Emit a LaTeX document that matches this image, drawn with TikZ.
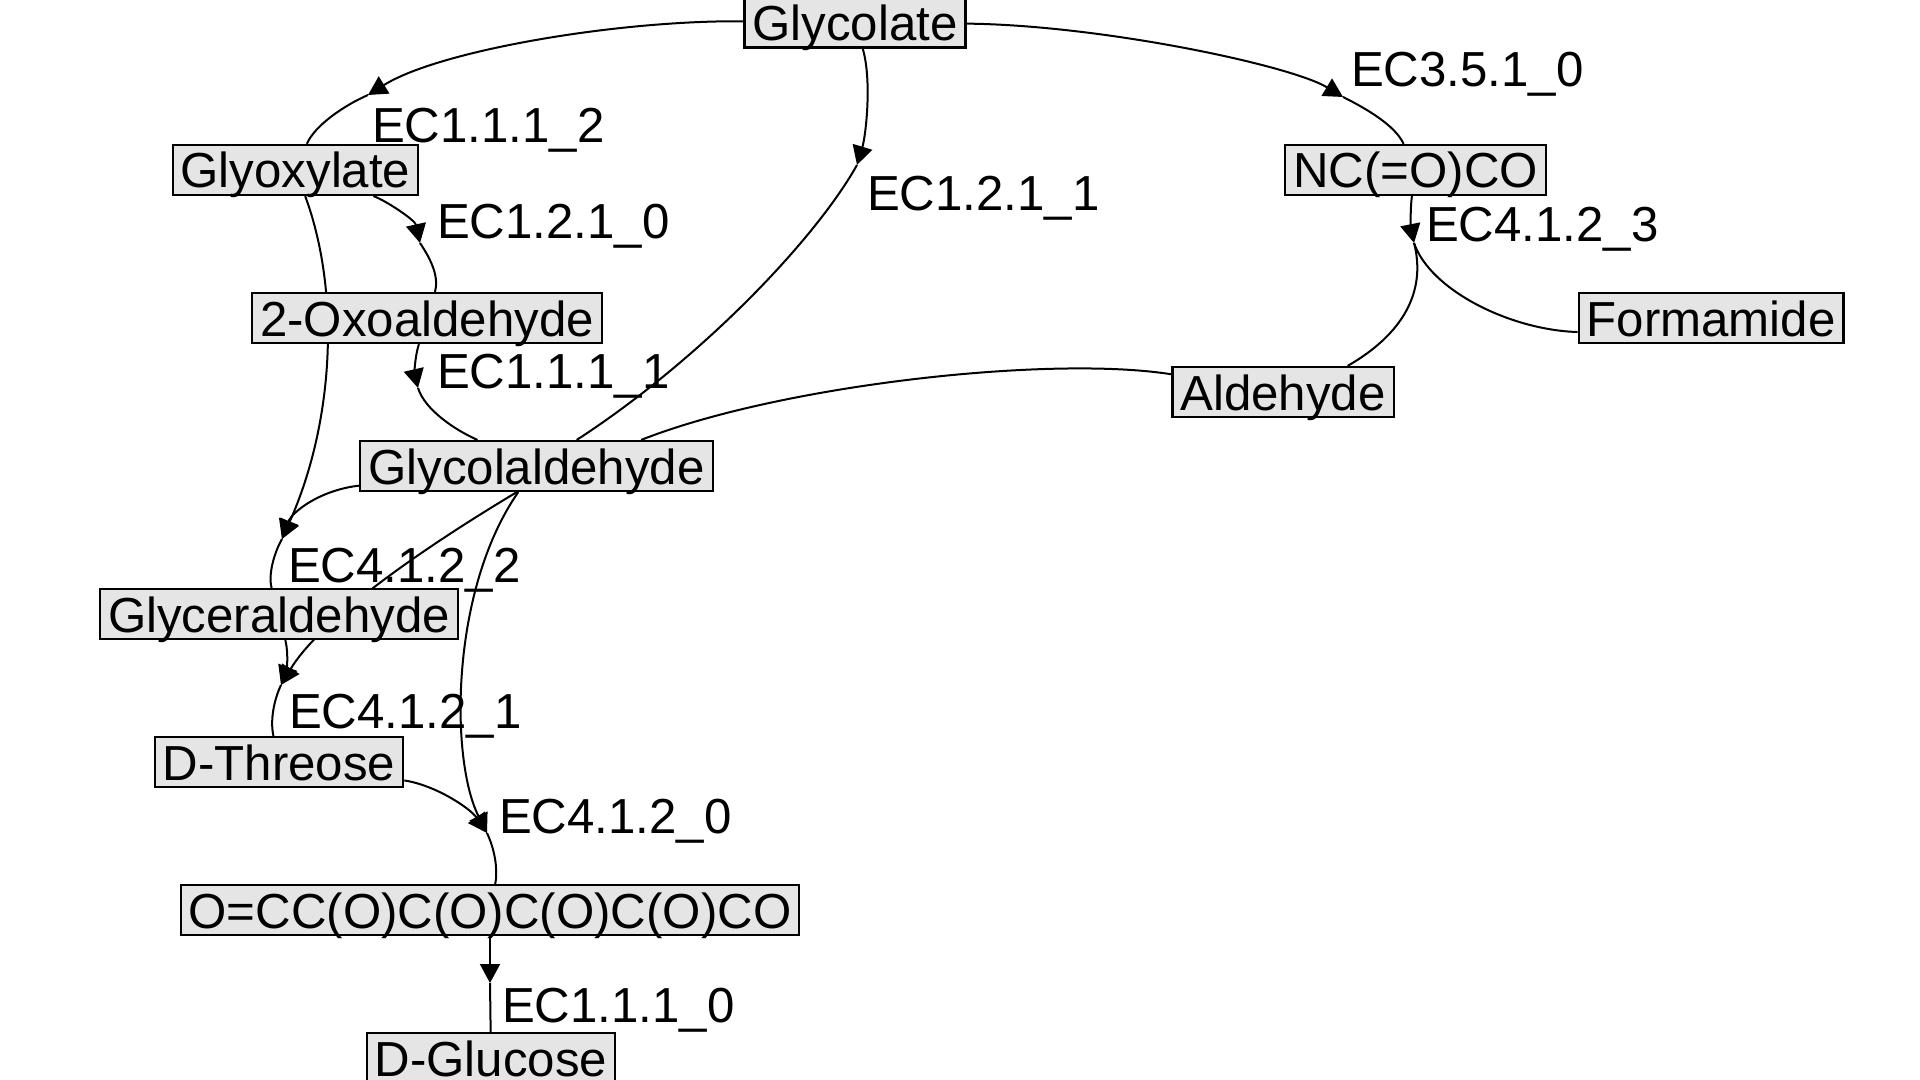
\documentclass[tikz,border=0pt]{standalone}
\usepackage{fontspec}
\setmainfont{Liberation Sans}
\usepackage{xcolor}
\definecolor{boxgray}{gray}{.9}
\usepackage{tikz}
\usetikzlibrary{arrows.meta}
\usetikzlibrary{backgrounds}
\tikzset{
    compound/.style={draw, fill=boxgray, rectangle, line width=1.1pt, inner xsep=4pt, inner ysep=0.5pt,
        text height=21pt, text depth=3pt, font=\fontsize{24.6}{28}\selectfont},
    enzyme/.style={anchor=base west, inner sep=0pt, font=\fontsize{24.6}{28}\selectfont},
    feed/.style={-{Triangle[length=9.5pt, width=10pt]}},
    edge/.style={line width=1pt}
}
\begin{document}
\begin{tikzpicture}[x=0.5pt, y=-0.5pt, every path/.style={edge}]
      \useasboundingbox (0,0) rectangle (1920,1080);

      % compounds
      \node[compound] (glycolate) at (855,22.5) {Glycolate};
      \node[compound] (glyoxylate) at (295.5,170) {Glyoxylate};
      \node[compound] (oxo) at (427,318) {2-Oxoaldehyde};
      \node[compound] (glycolaldehyde) at (536.5,466) {Glycolaldehyde};
      \node[compound] (glyceraldehyde) at (279,614) {Glyceraldehyde};
      \node[compound] (dthreose) at (279,762) {D-Threose};
      \node[compound] (occ) at (490,910) {O=CC(O)C(O)C(O)C(O)CO};
      \node[compound] (dglucose) at (491,1058) {D-Glucose};
      \node[compound] (ncco) at (1415.5,170) {NC(=O)CO};
      \node[compound] (formamide) at (1711,318) {Formamide};
      \node[compound] (aldehyde) at (1283,392) {Aldehyde};

      % reactions
      \coordinate (r1112) at (368,95);
      \coordinate (r1210) at (420,243);
      \coordinate (r1211) at (857,165);
      \coordinate (r1111) at (418,388);
      \coordinate (r3510) at (1343,97);
      \coordinate (r4123) at (1414,243);
      \coordinate (r4122) at (282,539);
      \coordinate (r4121) at (281,685);
      \coordinate (r4120) at (487,833);
      \coordinate (r1110) at (490,983);

      \path (r1112) ++(3,48) node[enzyme] (l1112) {EC1.1.1\_2};
      \path (r1210) ++(16,-4) node[enzyme] (l1210) {EC1.2.1\_0};
      \path (r1211) ++(9,46) node[enzyme] (l1211) {EC1.2.1\_1};
      \path (r1111) ++(18,0) node[enzyme] (l1111) {EC1.1.1\_1};
      \path (r3510) ++(7,-10) node[enzyme] (l3510) {EC3.5.1\_0};
      \path (r4123) ++(11,-1) node[enzyme] (l4123) {EC4.1.2\_3};
      \path (r4122) ++(5,43) node[enzyme] (l4122) {EC4.1.2\_2};
      \path (r4121) ++(7,43) node[enzyme] (l4121) {EC4.1.2\_1};
      \path (r4120) ++(11,0) node[enzyme] (l4120) {EC4.1.2\_0};
      \path (r1110) ++(11,39) node[enzyme] (l1110) {EC1.1.1\_0};

      \begin{scope}[on background layer]
      \draw[feed] (glycolate) .. controls (620,20) and (440,50) .. (r1112);
      \draw (r1112) .. controls (345,105) and (315,125) .. (glyoxylate);
      \draw[feed] (glycolate) .. controls (872,80) and (866,135) .. (r1211);
      \draw (r1211) .. controls (815,240) and (700,360) .. (glycolaldehyde);
      \draw[feed] (glycolate) .. controls (1100,25) and (1290,65) .. (r3510);
      \draw (r3510) .. controls (1365,108) and (1395,125) .. (ncco);
      \draw[feed] (glyoxylate) .. controls (385,200) and (415,220) .. (r1210);
      \draw (r1210) .. controls (428,255) and (440,275) .. (oxo);
      \draw[feed] (oxo) .. controls (414,360) and (415,375) .. (r1111);
      \draw (r1111) .. controls (425,410) and (455,430) .. (glycolaldehyde);
      \draw[feed] (glyoxylate) .. controls (340,290) and (335,420) .. (r4122);
      \draw[feed] (glycolaldehyde) .. controls (320,490) and (292,512) .. (r4122);
      \draw (r4122) .. controls (274,553) and (268,575) .. (glyceraldehyde);
      \draw[feed] (glyceraldehyde) .. controls (289,655) and (286,672) .. (r4121);
      \draw[feed] (glycolaldehyde.233) .. controls (420,550) and (320,620) .. (r4121);
      \draw (r4121) .. controls (274,700) and (270,720) .. (dthreose);
      \draw[feed] (glycolaldehyde) .. controls (450,590) and (450,760) .. (r4120);
      \draw[feed] (dthreose) .. controls (435,785) and (470,808) .. (r4120);
      \draw (r4120) .. controls (495,850) and (498,870) .. (occ);
      \draw[feed] (occ) -- (r1110);
      \draw (r1110) -- (dglucose);
      \draw[feed] (ncco) .. controls (1410,210) and (1411,228) .. (r4123);
      \draw (r4123) .. controls (1430,290) and (1510,330) .. (formamide.186);
      \draw (r4123) .. controls (1425,285) and (1410,330) .. (aldehyde.22);
      \draw (glycolaldehyde.14) .. controls (780,385) and (1050,355) .. (aldehyde);
      \end{scope}
\end{tikzpicture}
\end{document}
